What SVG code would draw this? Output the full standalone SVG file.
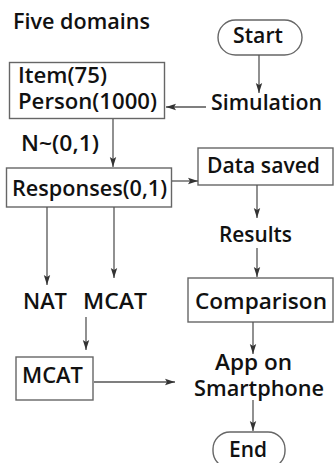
<svg xmlns="http://www.w3.org/2000/svg" width="335" height="463" viewBox="0 0 335 463">
<style>
.t{font-family:"Open Sans","Noto Sans","Liberation Sans",sans-serif;font-size:21px;font-weight:600;fill:#111;}
.b{fill:#fff;stroke:#666;stroke-width:1.4;}
.c line{stroke:#555;stroke-width:1.3;marker-end:url(#ah);}
</style>
<defs>
<marker id="ah" markerUnits="userSpaceOnUse" markerWidth="10" markerHeight="8" viewBox="0 0 10 8" refX="10" refY="4" orient="auto">
<path d="M0,0.8 L10,4 L0,7.2 L2,4 Z" fill="#333"/>
</marker>
</defs>
<rect width="335" height="463" fill="#fff"/>
<g id="title"><text class="t" x="13" y="29" textLength="137" lengthAdjust="spacingAndGlyphs">Five domains</text></g>
<g id="start"><rect class="b" x="218" y="20" width="84" height="35" rx="17.5"/><text class="t" x="233" y="43" textLength="50" lengthAdjust="spacingAndGlyphs">Start</text></g>
<g id="simulation"><text class="t" x="211" y="110" textLength="111" lengthAdjust="spacingAndGlyphs">Simulation</text></g>
<g id="item"><rect class="b" x="9.5" y="62.5" width="155" height="56"/><text class="t" x="18" y="83" textLength="89" lengthAdjust="spacingAndGlyphs">Item(75)</text><text class="t" x="18" y="109" textLength="139" lengthAdjust="spacingAndGlyphs">Person(1000)</text></g>
<g id="normal"><text class="t" x="21" y="151" textLength="78" lengthAdjust="spacingAndGlyphs">N~(0,1)</text></g>
<g id="responses"><rect class="b" x="6.5" y="168" width="165" height="39"/><text class="t" x="12" y="196" textLength="155" lengthAdjust="spacingAndGlyphs">Responses(0,1)</text></g>
<g id="datasaved"><rect class="b" x="198" y="148" width="135" height="37"/><text class="t" x="207" y="173" textLength="113" lengthAdjust="spacingAndGlyphs">Data saved</text></g>
<g id="results"><text class="t" x="219" y="242" textLength="73" lengthAdjust="spacingAndGlyphs">Results</text></g>
<g id="comparison"><rect class="b" x="188" y="278" width="145" height="44"/><text class="t" x="195" y="309" textLength="132" lengthAdjust="spacingAndGlyphs">Comparison</text></g>
<g id="nat"><text class="t" x="23" y="309" textLength="44" lengthAdjust="spacingAndGlyphs">NAT</text></g>
<g id="mcat1"><text class="t" x="83" y="309" textLength="64" lengthAdjust="spacingAndGlyphs">MCAT</text></g>
<g id="mcat2"><rect class="b" x="16" y="357" width="77" height="43"/><text class="t" x="22" y="383" textLength="61" lengthAdjust="spacingAndGlyphs">MCAT</text></g>
<g id="app"><text class="t" x="215" y="370" textLength="77" lengthAdjust="spacingAndGlyphs">App on</text><text class="t" x="194" y="396" textLength="130" lengthAdjust="spacingAndGlyphs">Smartphone</text></g>
<g id="end"><rect class="b" x="213" y="432" width="72" height="36" rx="17"/><text class="t" x="229" y="457" textLength="38" lengthAdjust="spacingAndGlyphs">End</text></g>
<g id="connectors" class="c">
<line x1="259" y1="55" x2="259" y2="93"/>
<line x1="206" y1="107" x2="166" y2="107"/>
<line x1="113" y1="119" x2="113" y2="167"/>
<line x1="172" y1="181" x2="198" y2="181"/>
<line x1="257" y1="185" x2="257" y2="218"/>
<line x1="257" y1="248" x2="257" y2="277"/>
<line x1="47" y1="207" x2="47" y2="285"/>
<line x1="114" y1="207" x2="114" y2="278"/>
<line x1="86" y1="317" x2="86" y2="350"/>
<line x1="94" y1="382" x2="175" y2="382"/>
<line x1="253" y1="322" x2="253" y2="354"/>
<line x1="253" y1="400" x2="253" y2="431"/>
</g>
</svg>
